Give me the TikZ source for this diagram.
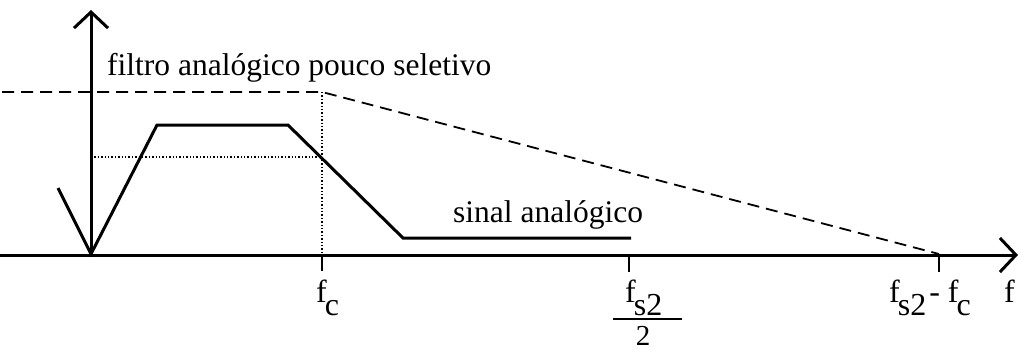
\documentclass[tikz,border=0pt]{standalone}
\usepackage{fontspec}
\setmainfont{Liberation Serif}
\usetikzlibrary{arrows.meta}
\newcommand{\lowsub}[1]{\kern-2pt\raisebox{-13pt}{#1}}
\begin{document}
\begin{tikzpicture}[x=1pt,y=-1pt,
  axis/.style={line width=3pt,-{Straight Barb[length=16pt,width=34pt,line width=3pt]}},
  sig/.style={line width=3pt,line join=miter},
  filt/.style={line width=1.8pt,dash pattern=on 12pt off 7pt},
  guide/.style={line width=1.4pt,dotted},
  tick/.style={line width=2.5pt},
  lbl/.style={inner sep=0pt,font=\fontsize{31.5}{33}\selectfont},
  tlbl/.style={inner sep=0pt,font=\fontsize{32}{34}\selectfont}]
\useasboundingbox (0,0) rectangle (1019,351);
% coordinates
\coordinate (xs) at (0,255);
\coordinate (xe) at (1018,255);
\coordinate (o) at (91,255);
\coordinate (ye) at (91,10);
\coordinate (v0) at (58,188);
\coordinate (v1) at (91,254);
\coordinate (t1) at (157,125);
\coordinate (t2) at (288,125);
\coordinate (b1) at (403,238);
\coordinate (b2) at (631,238);
\coordinate (d0) at (2,92);
\coordinate (dc) at (322,92);
\coordinate (dz) at (939,254);
\coordinate (fcA) at (322,255);
\coordinate (fcB) at (322,271);
\coordinate (fhA) at (629,255);
\coordinate (fhB) at (629,272);
\coordinate (fdA) at (939,255);
\coordinate (fdB) at (939,272);
\coordinate (h0) at (91,157);
\coordinate (h1) at (322,157);
\coordinate (barL) at (613,319);
\coordinate (barR) at (682,319);
% guides
\draw[guide] (dc) -- (fcA);
\draw[guide] (h0) -- (h1);
% filter
\draw[filt] (d0) -- (dc) -- (dz);
% axes
\draw[axis] (xs) -- (xe);
\draw[axis] (o) -- (ye);
% ticks
\draw[tick] (fcA) -- (fcB);
\draw[tick] (fhA) -- (fhB);
\draw[tick] (fdA) -- (fdB);
% signal
\draw[sig] (v0) -- (v1) -- (t1) -- (t2) -- (b1) -- (b2);
% labels
\node[lbl,anchor=base west] (title) at (107,75) {filtro analógico pouco seletivo};
\node[lbl,anchor=base west] (sinal) at (453,222) {sinal analógico};
\node[tlbl,anchor=base west] (lfc) at (316,302) {f\lowsub{c}};
\node[tlbl,anchor=base west] (lfs) at (625,302) {f\lowsub{s2}};
\draw[line width=2.5pt] (barL) -- (barR);
\node[tlbl,anchor=base,font=\fontsize{29}{31}\selectfont] (ltwo) at (643,345) {2};
\node[tlbl,anchor=base west] (ldiff) at (889,302) {f\lowsub{s2}\kern3pt- f\lowsub{c}};
\node[tlbl,anchor=base west] (lf) at (1004,302) {f};
\end{tikzpicture}
\end{document}
